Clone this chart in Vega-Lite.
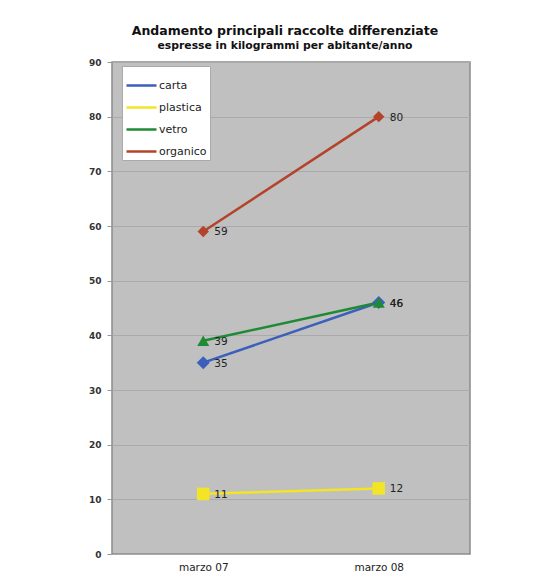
{
  "$schema": "https://vega.github.io/schema/vega-lite/v6.json",
  "width": 358,
  "height": 492,
  "autosize": {"type": "none"},
  "padding": {"left": 112, "top": 62, "right": 75, "bottom": 25},
  "background": "white",
  "title": {
    "text": "Andamento principali raccolte differenziate",
    "subtitle": "espresse in kilogrammi per abitante/anno",
    "font": "DejaVu Sans",
    "fontSize": 12.5,
    "fontWeight": "bold",
    "color": "#111111",
    "subtitleFont": "DejaVu Sans",
    "subtitleFontSize": 10.8,
    "subtitleFontWeight": "bold",
    "subtitleColor": "#111111",
    "subtitlePadding": 3,
    "anchor": "middle",
    "offset": 7,
    "dx": -6
  },
  "data": {
    "values": [
      {"series": "carta", "marker": "carta", "period": "marzo 07", "value": 35},
      {"series": "carta", "marker": "carta", "period": "marzo 08", "value": 46},
      {"series": "plastica", "marker": "plastica", "period": "marzo 07", "value": 11},
      {"series": "plastica", "marker": "plastica", "period": "marzo 08", "value": 12},
      {"series": "vetro", "marker": "vetro", "period": "marzo 07", "value": 39},
      {"series": "vetro", "marker": "vetro", "period": "marzo 08", "value": 46},
      {"series": "organico", "marker": "organico", "period": "marzo 07", "value": 59},
      {"series": "organico", "marker": "organico", "period": "marzo 08", "value": 80}
    ]
  },
  "encoding": {
    "x": {
      "field": "period",
      "type": "ordinal",
      "scale": {"type": "point", "padding": 0.52},
      "axis": {
        "title": null,
        "labelAngle": 0,
        "labelFont": "DejaVu Sans",
        "labelFontSize": 10.5,
        "labelColor": "#222222",
        "ticks": false,
        "labelPadding": 8,
        "domain": false,
        "grid": false
      }
    },
    "y": {
      "field": "value",
      "type": "quantitative",
      "scale": {"domain": [0, 90], "nice": false},
      "axis": {
        "title": null,
        "values": [0, 10, 20, 30, 40, 50, 60, 70, 80, 90],
        "labelFont": "DejaVu Sans",
        "labelFontSize": 9,
        "labelFontWeight": "bold",
        "labelColor": "#333333",
        "tickSize": 5,
        "tickColor": "#999999",
        "labelPadding": 6,
        "domain": false,
        "grid": true,
        "gridColor": "#aaaaaa",
        "gridWidth": 1
      }
    }
  },
  "layer": [
    {
      "mark": {"type": "line", "strokeWidth": 2.5},
      "encoding": {
        "stroke": {
          "field": "series",
          "type": "nominal",
          "scale": {
            "domain": ["carta", "plastica", "vetro", "organico"],
            "range": ["#3b5fba", "#f2e526", "#1f8a35", "#b4432b"]
          },
          "legend": {
            "title": null,
            "orient": "none",
            "legendX": 10,
            "legendY": 4,
            "fillColor": "white",
            "strokeColor": "#aaaaaa",
            "padding": 3,
            "symbolType": "stroke",
            "symbolSize": 900,
            "symbolStrokeWidth": 2.5,
            "rowPadding": 0,
            "labelFont": "DejaVu Sans",
            "labelFontSize": 11,
            "labelColor": "#222222",
            "labelOffset": 1
          }
        }
      }
    },
    {
      "mark": {"type": "point", "filled": true, "opacity": 1, "strokeWidth": 0},
      "encoding": {
        "fill": {
          "field": "marker",
          "type": "nominal",
          "scale": {
            "domain": ["organico", "vetro", "plastica", "carta"],
            "range": ["#b4432b", "#1f8a35", "#f2e526", "#3b5fba"]
          },
          "legend": null
        },
        "shape": {
          "field": "marker",
          "type": "nominal",
          "scale": {
            "domain": ["organico", "vetro", "plastica", "carta"],
            "range": ["diamond", "triangle-up", "square", "diamond"]
          },
          "legend": null
        },
        "size": {
          "field": "marker",
          "type": "nominal",
          "scale": {
            "domain": ["organico", "vetro", "plastica", "carta"],
            "range": [130, 170, 200, 170]
          },
          "legend": null
        }
      }
    },
    {
      "mark": {
        "type": "text",
        "align": "left",
        "baseline": "middle",
        "dx": 11,
        "dy": 1,
        "font": "DejaVu Sans",
        "fontSize": 10.5,
        "color": "#222222"
      },
      "encoding": {
        "text": {"field": "value", "type": "quantitative"}
      }
    }
  ],
  "config": {
    "view": {"fill": "#c0c0c0", "stroke": "#8a8a8a", "strokeWidth": 1.5}
  }
}
